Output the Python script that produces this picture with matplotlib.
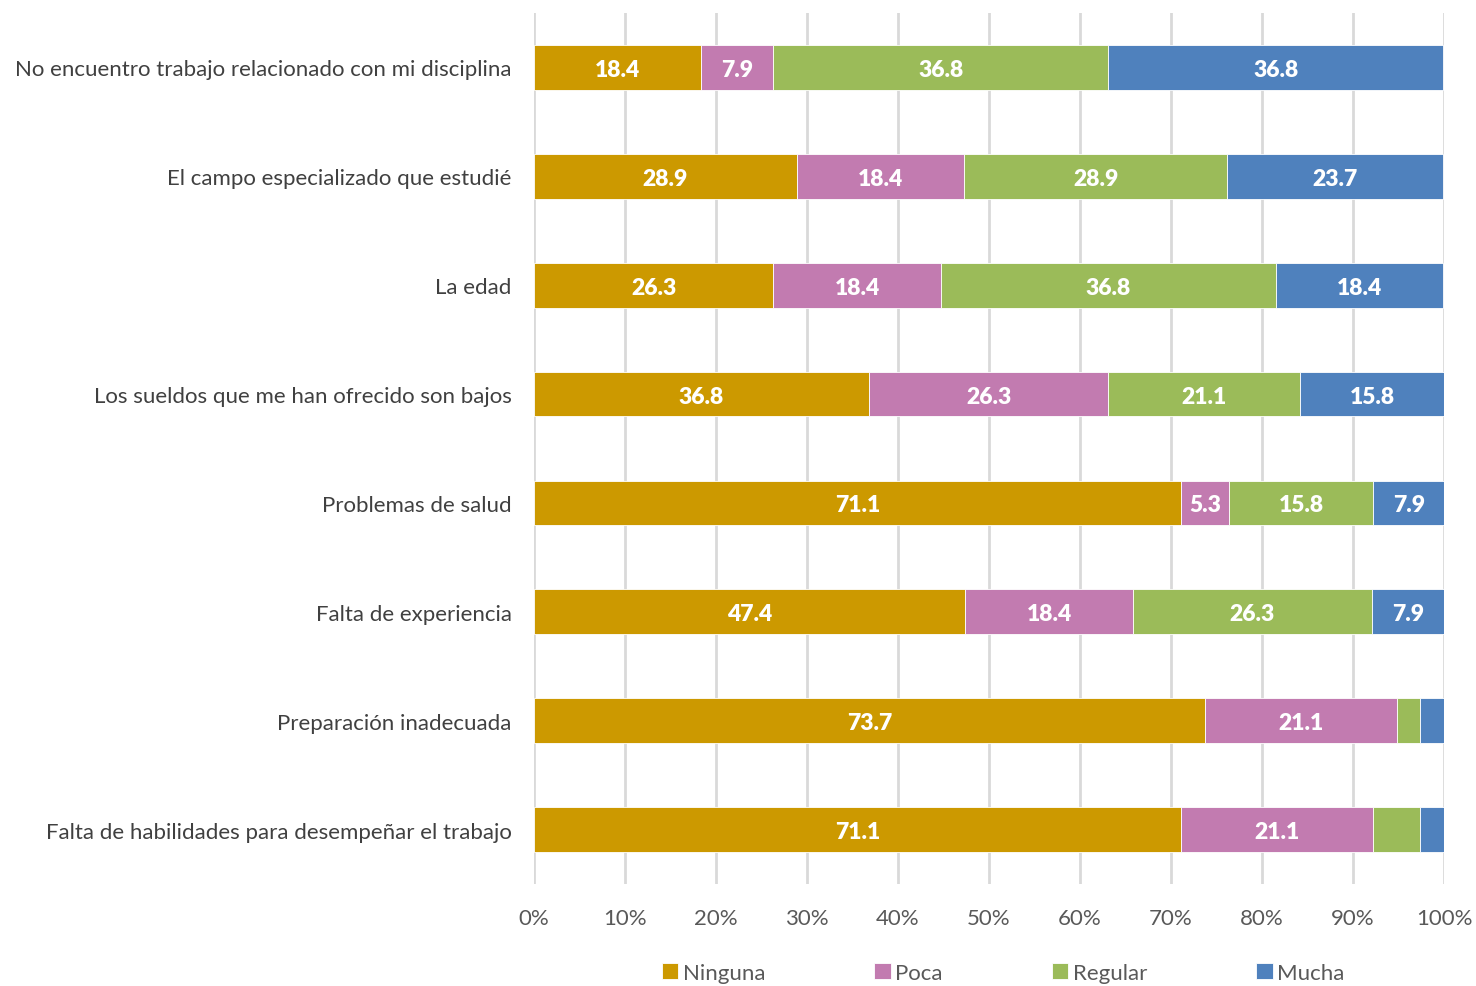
import numpy as np
import matplotlib.pyplot as plt

# Categories (top to bottom as shown)
categories = [
    "No encuentro trabajo relacionado con mi disciplina",
    "El campo especializado que estudié",
    "La edad",
    "Los sueldos que me han ofrecido son bajos",
    "Problemas de salud",
    "Falta de experiencia",
    "Preparación inadecuada",
    "Falta de habilidades para desempeñar el trabajo",
]
series = ["Ninguna", "Poca", "Regular", "Mucha"]
ninguna = [18.4, 28.9, 26.3, 36.8, 71.1, 47.4, 73.7, 71.1]
poca = [7.9, 18.4, 18.4, 26.3, 5.3, 18.4, 21.1, 21.1]
regular = [36.8, 28.9, 36.8, 21.1, 15.8, 26.3, 2.6, 5.2]
mucha = [36.8, 23.7, 18.4, 15.8, 7.9, 7.9, 2.6, 2.6]
colors = ["#CC9900", "#C27BB0", "#9BBB59", "#4F81BD"]

plt.rcParams["font.family"] = ["Lato", "DejaVu Sans"]

fig = plt.figure(figsize=(14.76, 9.87), dpi=100)
ax = fig.add_axes([534 / 1476, 1 - 885 / 987, 910 / 1476, 871 / 987])

y = np.arange(len(categories))
left = np.zeros(len(categories))
for name, vals, col in zip(series, [ninguna, poca, regular, mucha], colors):
    vals = np.array(vals)
    bars = ax.barh(y, vals, left=left, height=0.41, color=col, label=name,
                   edgecolor="white", linewidth=0.6, zorder=3)
    for b, v in zip(bars, vals):
        if v >= 5.25:
            ax.text(b.get_x() + b.get_width() / 2, b.get_y() + b.get_height() / 2,
                    f"{v:.1f}", ha="center", va="center_baseline", color="white",
                    fontsize=16.5, fontweight="heavy", zorder=4)
    left += vals

ax.set_xlim(0, 100)
ax.set_ylim(len(categories) - 0.5, -0.5)
ax.set_yticks(y)
ax.set_yticklabels(categories, fontsize=16, color="#404040")
ax.set_xticks(np.arange(0, 101, 10))
ax.set_xticklabels([f"{t}%" for t in range(0, 101, 10)], fontsize=16, color="#595959")
ax.tick_params(axis="both", length=0)
ax.tick_params(axis="x", pad=17)
ax.tick_params(axis="y", pad=16)
ax.grid(axis="x", color="#D9D9D9", linewidth=2, zorder=0)
for s in ax.spines.values():
    s.set_visible(False)

fig.legend(loc="center", bbox_to_anchor=(1003 / 1476, 1 - 974 / 987), ncol=4,
           frameon=False, fontsize=16, handlelength=0.75, handleheight=0.75,
           handletextpad=0.2, columnspacing=4.9, labelcolor="#595959")

plt.savefig("out.png", dpi=100)
